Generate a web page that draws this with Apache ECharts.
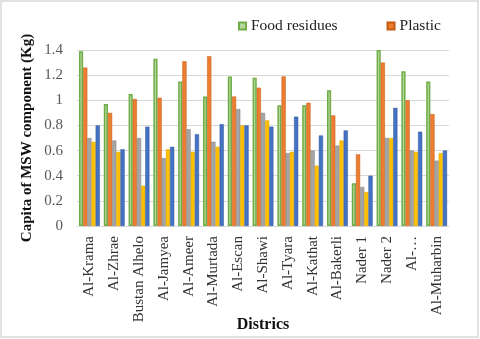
<!DOCTYPE html>
<html><head><meta charset="utf-8">
<script src="https://cdn.jsdelivr.net/npm/echarts@6/dist/echarts.min.js"></script>
<style>html,body{margin:0;padding:0;background:#fff}#c{width:480px;height:339px}</style>
</head><body><div id="c"></div>
<script>
const districts = ["Al-Krama","Al-Zhrae","Bustan Alhelo","Al-Jamyea","Al-Ameer","Al-Murtada","Al-Escan","Al-Shawi","Al-Tyara","Al-Kathat","Al-Bakerli","Nader 1","Nader 2","Al-…","Al-Muharbin"];
const foodResidues = [1.39,0.97,1.05,1.33,1.15,1.03,1.19,1.18,0.96,0.96,1.08,0.34,1.40,1.23,1.15];
const plastic      = [1.26,0.90,1.01,1.02,1.31,1.35,1.03,1.10,1.19,0.98,0.88,0.57,1.30,1.00,0.89];
const series3      = [0.70,0.68,0.70,0.54,0.77,0.67,0.93,0.90,0.58,0.60,0.64,0.31,0.70,0.60,0.52];
const series4      = [0.67,0.59,0.32,0.61,0.59,0.63,0.80,0.84,0.59,0.48,0.68,0.27,0.70,0.59,0.58];
const series5      = [0.80,0.61,0.79,0.63,0.73,0.81,0.80,0.79,0.87,0.72,0.76,0.40,0.94,0.75,0.60];
const yTicks = [0,0.2,0.4,0.6,0.8,1,1.2,1.4];

const font = "'Liberation Serif', 'Times New Roman', serif";
const chart = echarts.init(document.getElementById('c'), null, {renderer:'canvas'});
function bar(name, data, color, border, bw) {
  return {name, type:'bar', data, barGap:'0%', barCategoryGap:'16%',
    itemStyle:{color, borderColor:border, borderWidth:bw}};
}
chart.setOption({
  animation:false,
  textStyle:{fontFamily:font},
  graphic:[{type:'rect', shape:{x:1,y:1,width:477,height:336}, style:{fill:'none', stroke:'#d9d9d9', lineWidth:1.5}}],
  legend:{data:['Food residues','Plastic'], left:233, top:13, itemWidth:7, itemHeight:7, itemGap:49,
    icon:'rect', textStyle:{fontFamily:font, fontSize:15.5, color:'#222'}},
  grid:{left:77, right:31, top:50, bottom:113, containLabel:false, outerBoundsMode:'none'},
  xAxis:{type:'category', data:districts,
    name:'Districs', nameLocation:'middle', nameGap:91, nameMoveOverlap:false,
    nameTextStyle:{fontFamily:font, fontSize:16, fontWeight:'bold', color:'#111'},
    axisTick:{show:false}, axisLine:{lineStyle:{color:'#d9d9d9'}},
    axisLabel:{rotate:90, interval:0, margin:10, fontFamily:font, fontSize:15, color:'#333'}},
  yAxis:{type:'value', min:0, max:1.4, interval:0.2,
    name:'Capita of MSW component (Kg)', nameLocation:'middle', nameGap:42, nameMoveOverlap:false,
    nameTextStyle:{fontFamily:font, fontSize:15, fontWeight:'bold', color:'#111'},
    axisLine:{show:false}, axisTick:{show:false},
    splitLine:{lineStyle:{color:'#d9d9d9'}},
    axisLabel:{margin:14, fontFamily:font, fontSize:15, color:'#595959',
      formatter:v=>{const t=yTicks.find(x=>Math.abs(x-v)<1e-6); return String(t!==undefined?t:v);}}},
  series:[
    bar('Food residues', foodResidues, '#b5d99c', '#70ad47', 1.5),
    bar('Plastic', plastic, '#ed7d31', '#c55a11', 0.5),
    bar('Series3', series3, '#a5a5a5', '#7f7f7f', 0.5),
    bar('Series4', series4, '#ffc000', '#d9a300', 0.5),
    bar('Series5', series5, '#4472c4', '#2f5597', 0.5)
  ]
});
</script></body></html>
